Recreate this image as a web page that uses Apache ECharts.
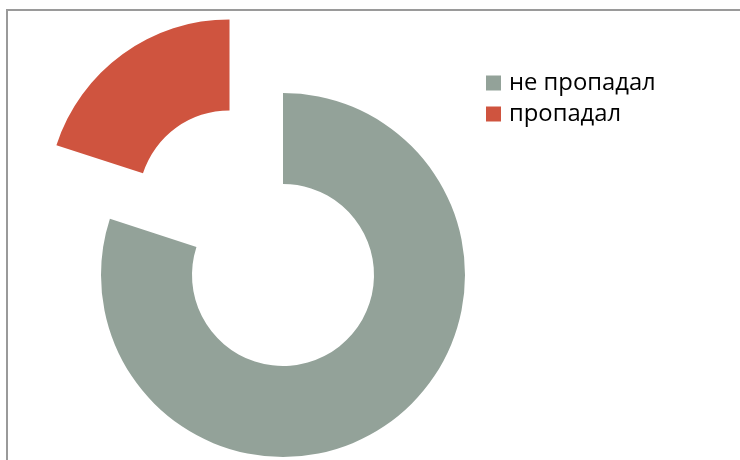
<!DOCTYPE html>
<html>
<head>
<meta charset="utf-8">
<script src="https://cdn.jsdelivr.net/npm/echarts@6/dist/echarts.min.js"></script>
<style>
html,body{margin:0;padding:0;background:#fff;}
#c{width:740px;height:460px;}
</style>
</head>
<body>
<div id="c"></div>
<script>
const categories = ['не пропадал', 'пропадал'];
const values = [80, 20];
const colors = ['#93A299', '#CF543F'];
const explodedIndex = 1;

const chart = echarts.init(document.getElementById('c'), null, {renderer: 'canvas'});
chart.setOption({
  animation: false,
  graphic: [{
    type: 'rect',
    shape: {x: 7, y: 10, width: 760, height: 470},
    style: {fill: 'none', stroke: '#9a9a9a', lineWidth: 2},
    silent: true
  }],
  legend: {
    orient: 'vertical',
    left: 486,
    top: 69,
    padding: 0,
    icon: 'rect',
    itemWidth: 15,
    itemHeight: 15,
    itemGap: 3,
    selectedMode: false,
    data: categories,
    textStyle: {
      fontFamily: 'Open Sans',
      fontSize: 23.8,
      color: '#000',
      lineHeight: 28,
      padding: [0, 0, 0, 3]
    }
  },
  series: [{
    type: 'pie',
    center: [283, 275],
    radius: [91, 182],
    startAngle: 90,
    clockwise: true,
    selectedMode: 'single',
    selectedOffset: 91,
    label: {show: false},
    labelLine: {show: false},
    emphasis: {disabled: true},
    itemStyle: {borderWidth: 0},
    data: categories.map((name, i) => ({
      name: name,
      value: values[i],
      selected: i === explodedIndex,
      itemStyle: {color: colors[i]}
    }))
  }]
});
</script>
</body>
</html>
